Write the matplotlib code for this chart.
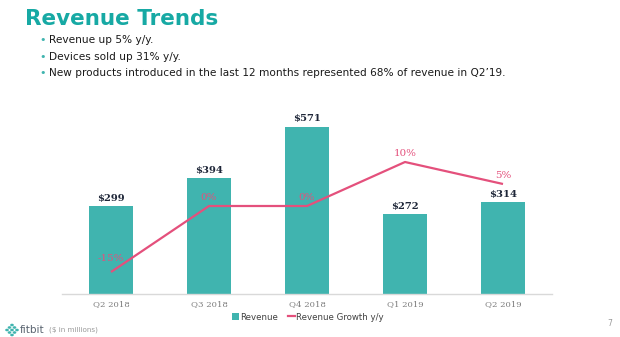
import matplotlib
matplotlib.use("Agg")
import matplotlib.pyplot as plt
from matplotlib.patches import Patch
from matplotlib.lines import Line2D

# Quarterly figures ($ in millions) and year-over-year growth
quarters = ["Q2 2018", "Q3 2018", "Q4 2018", "Q1 2019", "Q2 2019"]
revenue = [299, 394, 571, 272, 314]
growth_pct = [-15, 0, 0, 10, 5]

bullets = [
    "Revenue up 5% y/y.",
    "Devices sold up 31% y/y.",
    "New products introduced in the last 12 months represented 68% of revenue in Q2\u201919.",
]

TEAL = "#40B4AF"
TITLE_TEAL = "#17A9A4"
PINK = "#E4507C"
NAVY = "#1E2638"
GREY = "#7C7C7C"

W, H = 620, 337
fig = plt.figure(figsize=(W / 100, H / 100), dpi=100)
fig.patch.set_facecolor("white")

def fx(px):
    return px / W

def fy(py):
    return 1 - py / H

# Title and bullet points
fig.text(fx(25), fy(19), "Revenue Trends", fontsize=15.5, fontweight="bold",
         color=TITLE_TEAL, family="DejaVu Sans", va="center", ha="left")
for i, line in enumerate(bullets):
    y = 40 + i * 16.7
    fig.text(fx(39), fy(y), "\u2022", fontsize=8, color=TEAL, va="center", ha="left")
    fig.text(fx(49), fy(y), line, fontsize=7.6, color="#1a1a1a",
             family="DejaVu Sans", va="center", ha="left")

# Chart area
ax = fig.add_axes([fx(62), fy(294), fx(490), 176 / H])
x = list(range(len(quarters)))
bars = ax.bar(x, revenue, width=0.455, color=TEAL, zorder=2, label="Revenue")
ax.set_xlim(-0.5, len(quarters) - 0.5)
ax.set_ylim(0, 600)
ax.set_yticks([])
ax.set_xticks(x)
ax.set_xticklabels(quarters, fontsize=6.1, color=GREY, family="DejaVu Serif")
ax.tick_params(axis="x", length=0, pad=4.3)
for side in ("top", "left", "right"):
    ax.spines[side].set_visible(False)
ax.spines["bottom"].set_color("#D9D9D9")
ax.spines["bottom"].set_linewidth(1.0)

for xi, v in zip(x, revenue):
    ax.annotate(f"${v}", (xi, v), xytext=(0, 5.5), textcoords="offset points",
                ha="center", va="center", fontsize=7.2, fontweight="bold",
                color=NAVY, family="DejaVu Serif", annotation_clip=False)

ax2 = ax.twinx()
ax2.set_ylim(-20, 20)
ax2.set_yticks([])
for side in ("top", "left", "right", "bottom"):
    ax2.spines[side].set_visible(False)
ax2.plot(x, growth_pct, color=PINK, linewidth=1.6, zorder=3, solid_capstyle="butt")
for xi, g in zip(x, growth_pct):
    dy = 9.5 if g < 0 else 6.0
    ax2.annotate(f"{g}%", (xi, g), xytext=(0, dy), textcoords="offset points",
                 ha="center", va="center", fontsize=7.4, color=PINK,
                 family="DejaVu Serif", annotation_clip=False)

# Legend below the axis
handles = [
    Patch(facecolor=TEAL, edgecolor="none", label="Revenue"),
    Line2D([0], [0], color=PINK, linewidth=1.6, label="Revenue Growth y/y"),
]
fig.legend(handles=handles, loc="center", bbox_to_anchor=(fx(308), fy(317)),
           ncol=2, frameon=False, handlelength=0.8, handleheight=0.7,
           handletextpad=0.15, columnspacing=1.2,
           prop={"family": "DejaVu Sans", "size": 6.2})
for t in fig.legends[0].get_texts():
    t.set_color("#404040")

# Footer: logo mark, wordmark, units note and page number
logo_dots = [(12, 330), (9.5, 327.5), (9.5, 332.5), (7, 330), (14.5, 327.5),
             (14.5, 332.5), (17, 330), (12, 325), (12, 335)]
for (px, py) in logo_dots:
    fig.patches.append(plt.Circle((fx(px), fy(py)), 1.1 / W, color=TEAL,
                                  transform=fig.transFigure, figure=fig))
fig.text(fx(19.5), fy(330), "fitbit", fontsize=7.5, color="#5a6470",
         family="DejaVu Sans", va="center", ha="left")
fig.text(fx(49), fy(330), "($ in millions)", fontsize=5.2, color="#9a9a9a",
         family="DejaVu Sans", va="center", ha="left")
fig.text(fx(610), fy(324), "7", fontsize=5.5, color="#9a9a9a",
         family="DejaVu Sans", va="center", ha="center")

fig.savefig("out.png", dpi=100, facecolor="white")
